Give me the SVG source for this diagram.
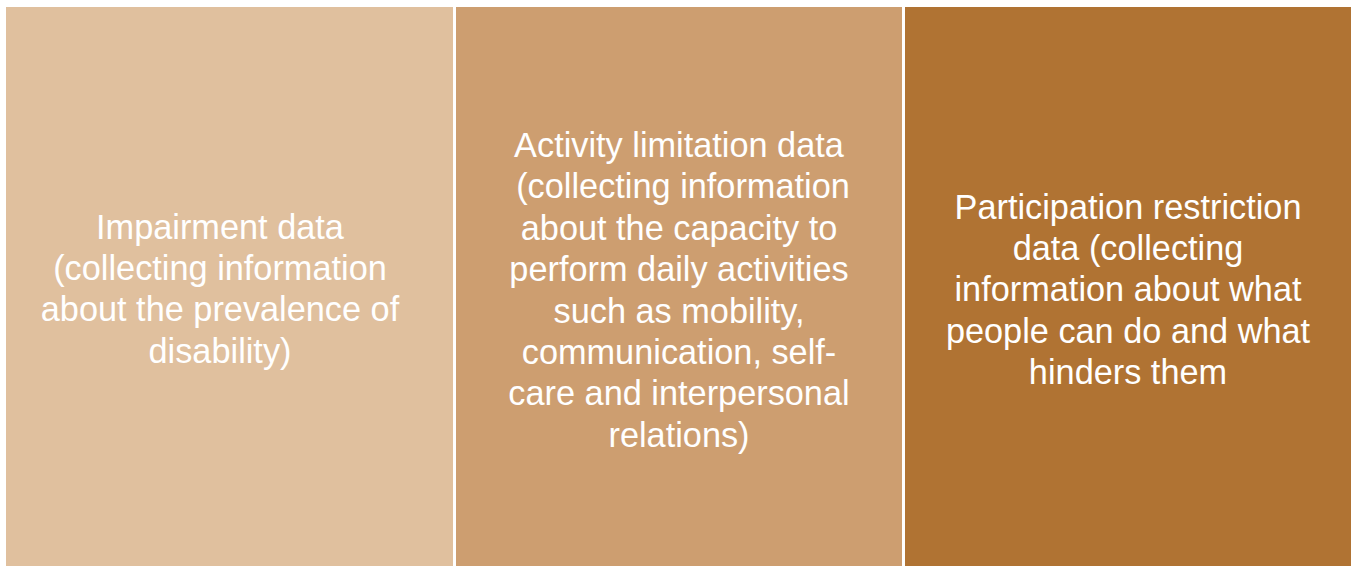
<svg xmlns="http://www.w3.org/2000/svg" width="1352" height="567" viewBox="0 0 1352 567">
<style>
.t{font-family:"Liberation Sans",Arial,sans-serif;font-size:34.3px;fill:#ffffff;text-anchor:middle}
</style>
<rect width="1352" height="567" fill="#ffffff"/>
<g id="node-impairment">
<rect x="6" y="7" width="447" height="559" fill="#E0C09E"/>
<text class="t" x="220"><tspan x="220" y="238.5">Impairment data</tspan><tspan x="220" y="280">(collecting information</tspan><tspan x="220" y="321.4">about the prevalence of</tspan><tspan x="220" y="362.8">disability)</tspan></text>
</g>
<g id="node-activity">
<rect x="456" y="7" width="446" height="559" fill="#CD9E70"/>
<text class="t" x="679"><tspan x="679" y="157">Activity limitation data</tspan><tspan x="683" y="198.4">(collecting information</tspan><tspan x="679" y="239.8">about the capacity to</tspan><tspan x="679" y="281.2">perform daily activities</tspan><tspan x="679" y="322.6">such as mobility,</tspan><tspan x="679" y="364">communication, self-</tspan><tspan x="679" y="405.4">care and interpersonal</tspan><tspan x="679" y="446.8">relations)</tspan></text>
</g>
<g id="node-participation">
<rect x="905" y="7" width="446" height="559" fill="#B07333"/>
<text class="t" x="1128"><tspan x="1128" y="218.5">Participation restriction</tspan><tspan x="1128" y="259.9">data (collecting</tspan><tspan x="1128" y="301.3">information about what</tspan><tspan x="1128" y="342.7">people can do and what</tspan><tspan x="1128" y="384.1">hinders them</tspan></text>
</g>
<g id="connectors"></g>
</svg>
